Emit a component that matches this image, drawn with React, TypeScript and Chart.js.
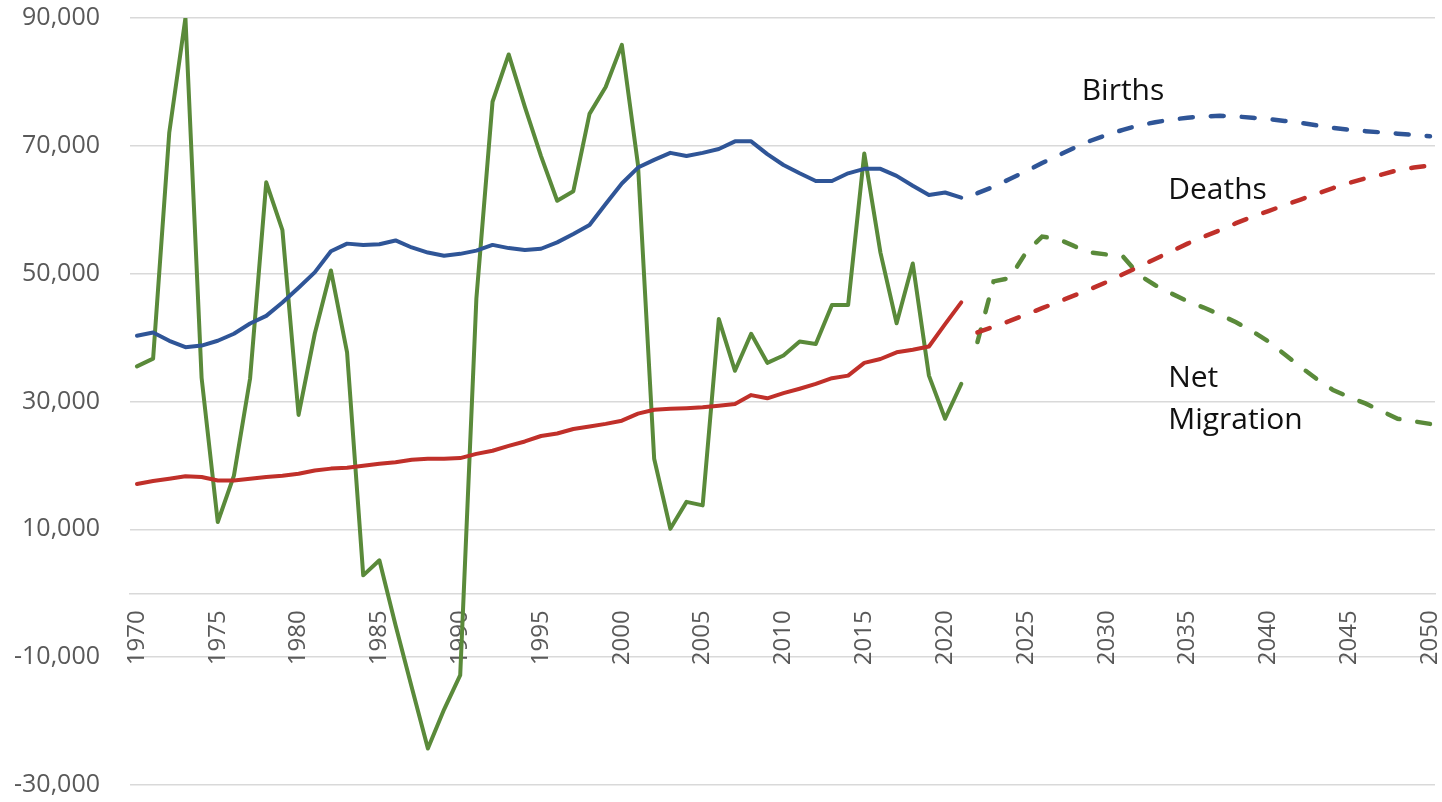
import React, { useEffect, useRef } from 'react';
import { Chart, registerables } from 'chart.js';

Chart.register(...registerables);

// ---------- data ----------
const histYears = [
  1970, 1971, 1972, 1973, 1974, 1975, 1976, 1977, 1978, 1979,
  1980, 1981, 1982, 1983, 1984, 1985, 1986, 1987, 1988, 1989,
  1990, 1991, 1992, 1993, 1994, 1995, 1996, 1997, 1998, 1999,
  2000, 2001, 2002, 2003, 2004, 2005, 2006, 2007, 2008, 2009,
  2010, 2011, 2012, 2013, 2014, 2015, 2016, 2017, 2018, 2019,
  2020, 2021,
];

const projYears = [
  2022, 2023, 2024, 2025, 2026, 2027, 2028, 2029, 2030,
  2031, 2032, 2033, 2034, 2035, 2036, 2037, 2038, 2039, 2040,
  2041, 2042, 2043, 2044, 2045, 2046, 2047, 2048, 2049, 2050,
];

const birthsHist = [
  40300, 40800, 39500, 38500, 38750, 39500, 40600, 42200, 43400, 45500,
  47800, 50200, 53500, 54700, 54500, 54600, 55200, 54100, 53300, 52800,
  53100, 53600, 54500, 54000, 53700, 53900, 54900, 56200, 57600, 60900,
  64100, 66600, 67800, 68900, 68400, 68900, 69500, 70700, 70700, 68700,
  67000, 65700, 64500, 64500, 65700, 66400, 66400, 65300, 63750, 62300,
  62700, 61900,
];

const deathsHist = [
  17100, 17550, 17900, 18300, 18200, 17650, 17650, 17900, 18200, 18400,
  18700, 19200, 19500, 19650, 19950, 20250, 20500, 20900, 21050, 21050,
  21150, 21800, 22300, 23050, 23750, 24600, 25000, 25700, 26100, 26500,
  27000, 28100, 28700, 28850, 28950, 29100, 29350, 29600, 31000, 30500,
  31300, 32000, 32750, 33650, 34050, 36050, 36650, 37700, 38100, 38600,
  42100, 45500,
];

const migrationHist = [
  35500, 36700, 72100, 90000, 33700, 11150, 18400, 33600, 64300, 56800,
  27900, 40600, 50500, 37700, 2800, 5150, -5000, -14700, -24300, -18200,
  -12800, 46100, 76900, 84300, 76100, 68400, 61400, 62900, 75000, 79200,
  85800, 67000, 21050, 10100, 14300, 13750, 42900, 34800, 40600, 36050,
  37200, 39400, 39000, 45100, 45100, 68800, 53300, 42250, 51600, 34050,
  27300, 32750,
];

const birthsProj = [
  62600, 63600, 64800, 66000, 67300, 68500, 69700, 70800, 71700,
  72500, 73200, 73700, 74100, 74400, 74600, 74700, 74600, 74400, 74200,
  73900, 73600, 73200, 72800, 72500, 72300, 72100, 71900, 71700, 71500,
];

const deathsProj = [
  40800, 41700, 42600, 43600, 44600, 45600, 46600, 47600, 48700,
  49900, 51100, 52300, 53500, 54700, 55800, 56800, 57900, 58900, 59800,
  60700, 61600, 62500, 63400, 64200, 64900, 65500, 66200, 66600, 66900,
];

const migrationProj = [
  39300, 48800, 49300, 53300, 55800, 55400, 54300, 53300, 53000,
  52700, 49800, 48200, 46900, 45700, 44700, 43600, 42400, 41000, 39400,
  37400, 35400, 33500, 31800, 30700, 29700, 28500, 27300, 26900, 26500,
];

const xTickValues = [
  1970, 1975, 1980, 1985, 1990, 1995, 2000, 2005, 2010, 2015,
  2020, 2025, 2030, 2035, 2040, 2045, 2050,
];

const yTickValues = [-30000, -10000, 10000, 30000, 50000, 70000, 90000];

const seriesNames = ['Births', 'Deaths', 'Net', 'Migration'];

// ---------- styling ----------
const BLUE = '#2F5597';
const RED = '#C0302A';
const GREEN = '#5A8A3A';
const GRID = '#d9d9d9';
const TICK = '#595959';
const FONT = '"Open Sans", "Noto Sans", sans-serif';

const toPoints = (xs: number[], ys: number[]) => xs.map((x, i) => ({ x, y: ys[i] }));

const labelPlugin = {
  id: 'seriesLabels',
  afterDatasetsDraw(chart: any) {
    const { ctx, scales } = chart;
    const xs = scales.x;
    const ys = scales.y;
    // anchors in data units: [year, value]
    const anchors: [number, number][] = [
      [2028.45, 77140],
      [2033.8, 61670],
      [2033.8, 32340],
      [2033.8, 25730],
    ];
    ctx.save();
    ctx.font = `30px ${FONT}`;
    ctx.fillStyle = '#111111';
    ctx.textAlign = 'left';
    ctx.textBaseline = 'alphabetic';
    seriesNames.forEach((t, i) => {
      ctx.fillText(t, xs.getPixelForValue(anchors[i][0]), ys.getPixelForValue(anchors[i][1]));
    });
    ctx.restore();
  },
};

export default function App() {
  const canvasRef = useRef<HTMLCanvasElement | null>(null);

  useEffect(() => {
    if (!canvasRef.current) return;
    const solid = { borderWidth: 4, pointRadius: 0, tension: 0, borderCapStyle: 'round', borderJoinStyle: 'round' };
    const dashed = { borderWidth: 4.5, pointRadius: 0, tension: 0, borderDash: [13, 18], borderCapStyle: 'round' };
    const chart = new Chart(canvasRef.current, {
      type: 'line',
      data: {
        datasets: [
          { label: 'Births', data: toPoints(histYears, birthsHist), borderColor: BLUE, ...solid },
          { label: 'Deaths', data: toPoints(histYears, deathsHist), borderColor: RED, ...solid },
          { label: 'Net Migration', data: toPoints(histYears, migrationHist), borderColor: GREEN, ...solid },
          { label: 'Births (projected)', data: toPoints(projYears, birthsProj), borderColor: BLUE, ...dashed },
          { label: 'Deaths (projected)', data: toPoints(projYears, deathsProj), borderColor: RED, ...dashed },
          { label: 'Net Migration (projected)', data: toPoints(projYears, migrationProj), borderColor: GREEN, ...dashed },
        ] as any,
      },
      options: {
        animation: false,
        responsive: true,
        maintainAspectRatio: false,
        layout: { padding: { left: 0, right: 7, top: 18, bottom: 17 } },
        plugins: { legend: { display: false }, tooltip: { enabled: false } },
        scales: {
          x: {
            type: 'linear',
            min: 1969.57,
            max: 2050.31,
            position: { y: 0 } as any,
            grid: { display: false, drawTicks: false },
            border: { display: true, color: GRID, width: 1.5 },
            ticks: {
              autoSkip: false,
              minRotation: 90,
              maxRotation: 90,
              padding: 17,
              color: TICK,
              font: { family: FONT, size: 24 },
              callback: (v: any) => String(v),
            },
            afterBuildTicks: (s: any) => {
              s.ticks = xTickValues.map((v) => ({ value: v }));
            },
            afterFit: (s: any) => {
              s.height = 0;
              s.paddingLeft = 0;
              s.paddingRight = 0;
              s.paddingTop = 0;
              s.paddingBottom = 0;
            },
          },
          y: {
            type: 'linear',
            min: -30000,
            max: 90000,
            grid: { color: GRID, lineWidth: 1.5, drawTicks: false },
            border: { display: false },
            ticks: {
              padding: 30,
              color: TICK,
              font: { family: FONT, size: 25 },
              callback: (v: any) => Number(v).toLocaleString('en-US'),
            },
            afterBuildTicks: (s: any) => {
              s.ticks = yTickValues.map((v) => ({ value: v }));
            },
            afterFit: (s: any) => {
              s.width = 130;
              s.paddingTop = 0;
              s.paddingBottom = 0;
            },
          },
        },
      } as any,
      plugins: [labelPlugin],
    });
    return () => chart.destroy();
  }, []);

  return (
    <div style={{ position: 'fixed', left: 0, top: 0, width: 1442, height: 802, background: '#ffffff' }}>
      <canvas ref={canvasRef} />
    </div>
  );
}
